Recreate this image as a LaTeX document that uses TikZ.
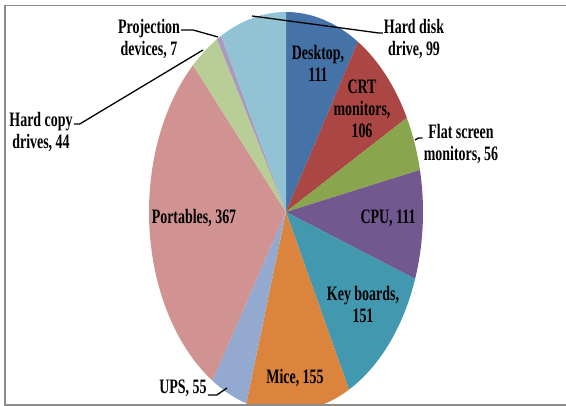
\documentclass[tikz,border=0pt]{standalone}
\usepackage{fontspec}
\newfontfamily\lblfont[FakeStretch=0.68]{Liberation Serif}
\definecolor{deskblue}{HTML}{4572A7}
\definecolor{crtred}{HTML}{AA4643}
\definecolor{flatgreen}{HTML}{89A54E}
\definecolor{cpupurple}{HTML}{71588F}
\definecolor{keyteal}{HTML}{4198AF}
\definecolor{miceorange}{HTML}{DB843D}
\definecolor{upsblue}{HTML}{93A9CF}
\definecolor{portpink}{HTML}{D19392}
\definecolor{copygreen}{HTML}{B9CD96}
\definecolor{projlilac}{HTML}{A99BBD}
\definecolor{disksky}{HTML}{92C3D4}
\definecolor{framegray}{HTML}{8C8C8C}
\begin{document}
\begin{tikzpicture}[x=1pt,y=1pt,
            slice label/.style={font=\lblfont\bfseries\fontsize{20.5}{22}\selectfont,
              align=center,inner sep=1pt},
            leader/.style={draw=black,line width=1.3pt}]

        \useasboundingbox (0,0) rectangle (566,406);

        % Define pie
        \coordinate (c) at (286,194);
        \begin{scope}
        \clip (5,1) rectangle (566,400);
        \foreach \s/\e/\col
          [evaluate=\s as \a using 90-\s/1262*360, evaluate=\e as \b using 90-\e/1262*360]
          in {0/111/deskblue, 111/217/crtred, 217/273/flatgreen,
            273/384/cpupurple, 384/535/keyteal, 535/690/miceorange, 690/745/upsblue,
            745/1112/portpink, 1112/1156/copygreen, 1156/1163/projlilac, 1163/1262/disksky}
          \fill[\col] (c) -- ++(\a:137 and 200)
            arc[start angle=\a, end angle=\b, x radius=137, y radius=200] -- cycle;
        \end{scope}

        % Frame
        \draw[framegray,line width=1.5pt] (566,400.5) -- (5,400.5) -- (5,1) -- (566,1);

        % Define labels
        \node[slice label] (desk) at (318,343) {Desktop,\\111};
        \node[slice label] (crt) at (362,297) {CRT\\monitors,\\106};
        \node[slice label] (flat) at (461,262) {Flat screen\\monitors, 56};
        \node[slice label] (cpu) at (388,188) {CPU, 111};
        \node[slice label] (key) at (363,102) {Key boards,\\151};
        \node[slice label] (mice) at (295,28) {Mice, 155};
        \node[slice label] (ups) at (183,18) {UPS, 55};
        \node[slice label] (port) at (194,188) {Portables, 367};
        \node[slice label] (hcopy) at (41,274) {Hard copy\\drives, 44};
        \node[slice label] (proj) at (149,367) {Projection\\devices, 7};
        \node[slice label] (hdisk) at (414,367) {Hard disk\\drive, 99};

        % Leader ends
        \coordinate (hdisk tip) at (252,390);
        \coordinate (flat tip) at (415,266);
        \coordinate (ups tip) at (227,18);
        \coordinate (hcopy tip) at (203,356);
        \coordinate (proj tip) at (218,369);

        % Draw leaders
        \path[leader] ([yshift=6pt]hdisk.west) -- ++(-4,0) -- (hdisk tip);
        \path[leader] ([yshift=6pt]flat.west) -- ++(-4,0) -- (flat tip);
        \path[leader] ([yshift=-7pt]ups.east) -- ++(9,0) -- (ups tip);
        \path[leader] ([yshift=8pt]hcopy.east) -- ++(6,0) -- (hcopy tip);
        \path[leader] ([yshift=9pt]proj.east) -- ++(12,0) -- (proj tip);

        \end{tikzpicture}
\end{document}
